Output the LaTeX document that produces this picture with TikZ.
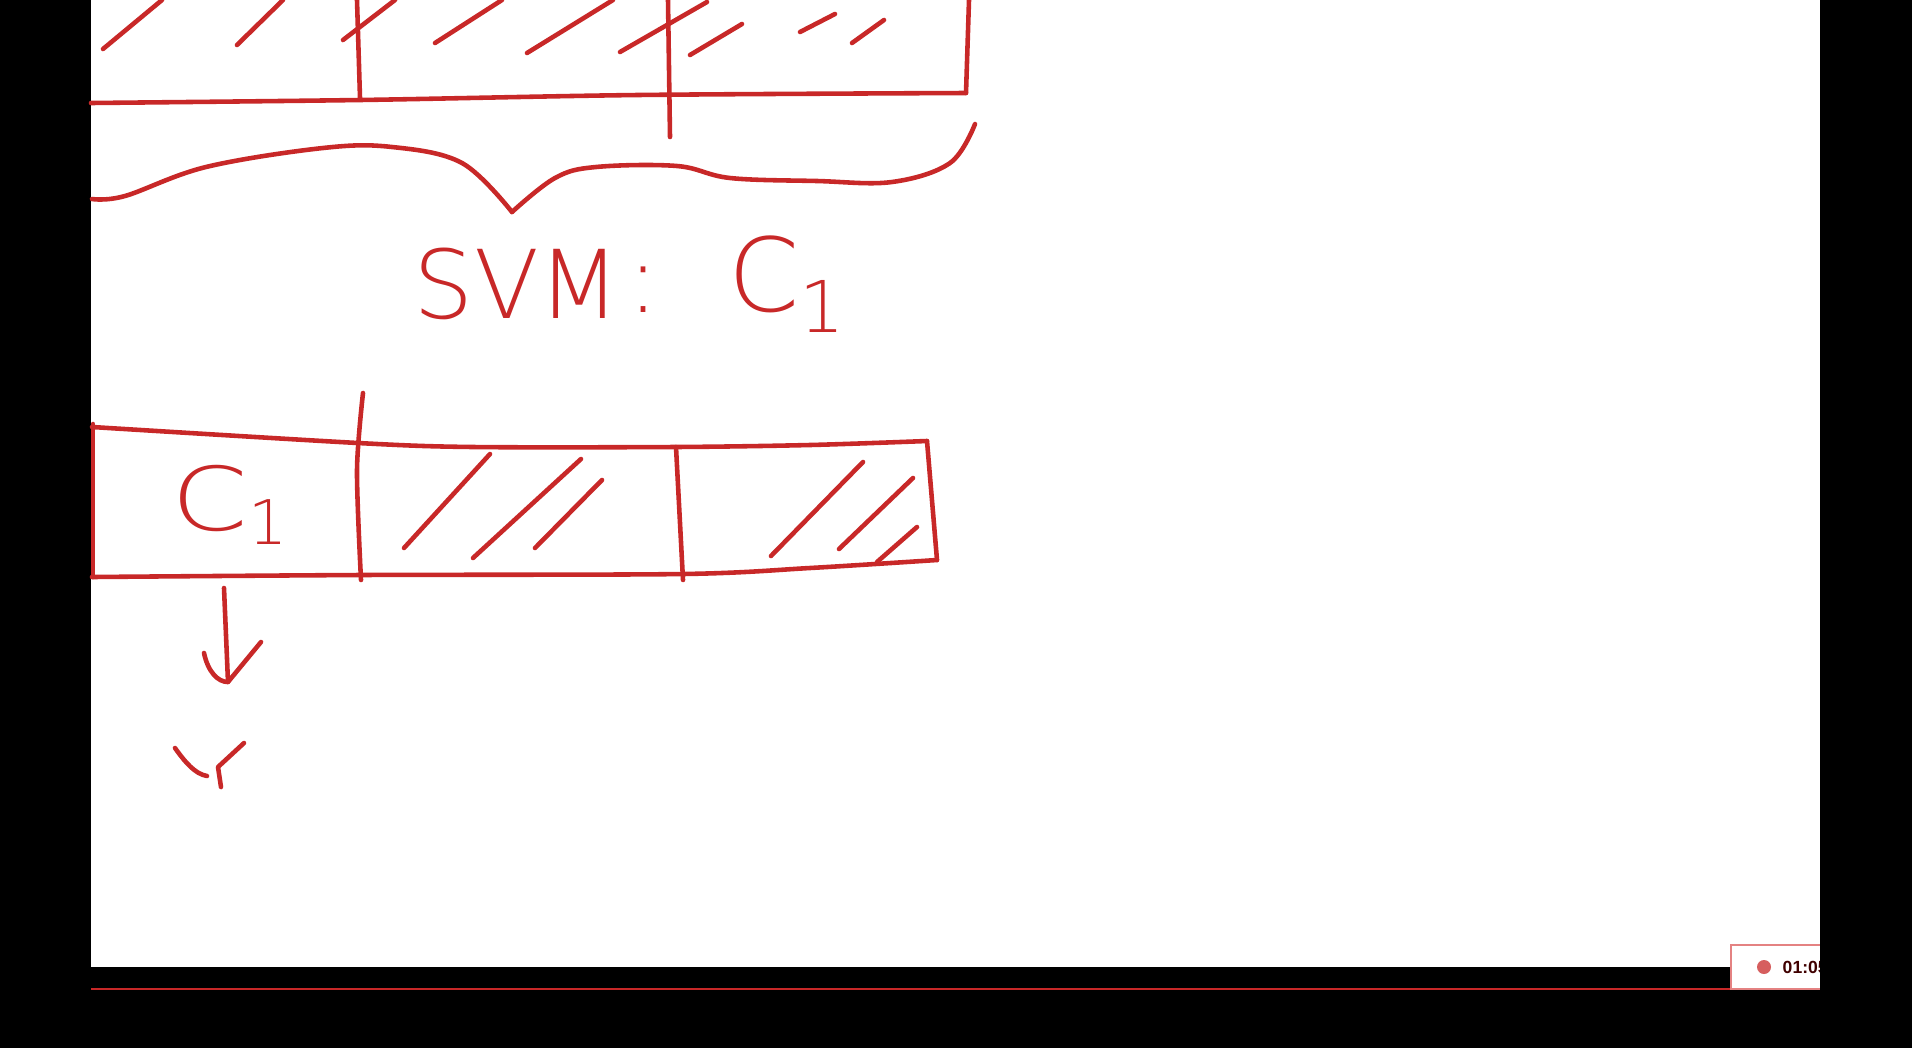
\documentclass[tikz,border=0pt]{standalone}
\usepackage{fontspec}
\setmainfont{Liberation Sans}
\newfontfamily\leicht{DejaVuSans-ExtraLight.ttf}
\usepackage{tikz}
\usetikzlibrary{calc}
\definecolor{stiftrot}{RGB}{200,40,40}
\definecolor{rahmen}{RGB}{228,130,130}

\tikzset{
	stift/.style={stiftrot, line width=1.3pt, line cap=round, line join=round},
	schrift/.style={text=stiftrot, inner sep=0pt, anchor=base west},
}

\begin{document}
\begin{tikzpicture}[x=0.01cm, y=-0.01cm]
	\useasboundingbox (0,0) rectangle (1912,1048);
	\fill[black] (0,0) rectangle (1912,1048); % Bildschirmrand
	\fill[white] (91,0) rectangle (1820,967);
	\draw[stiftrot, line width=0.6pt] (91,989) -- (1731,989);
	
	% obere Box (abgeschnitten)
	\draw[stift] plot[smooth] coordinates {(91,103) (360,100) (638,95) (966,93)};
	\draw[stift] (969,0) -- (966,93);
	\draw[stift] (357,0) -- (360,98);
	\draw[stift] (668,0) -- (670,137);
	\foreach \xa/\ya/\xb/\yb in {103/49/162/0, 237/45/283/0, 343/40/395/0, 435/43/502/0, 527/53/613/0,
	                             620/52/707/2, 690/55/742/24, 800/32/835/14, 852/43/884/20}
		\draw[stift] (\xa,\ya) -- (\xb,\yb);
	
	% Klammer
	\draw[stift] plot[smooth, tension=0.6] coordinates {(92,199) (125,196) (206,167) (323,148) (392,147) (462,163) (512,212)};
	\draw[stift] plot[smooth, tension=0.6] coordinates {(512,212) (555,178) (596,167) (677,166) (730,178) (817,181) (892,182) (950,163) (975,124)};
	
	\node[schrift, font=\leicht\fontsize{27}{27}\selectfont] (svm) at (413,318) {SVM};
	\node[schrift, font=\leicht\fontsize{27}{27}\selectfont] (doppelpunkt) at (627,312) {:};
	\node[schrift, font=\leicht\fontsize{29}{29}\selectfont] (cobenein) at (728,311) {C\textsubscript{1}};
	
	% untere Box
	\draw[stift] plot[smooth] coordinates {(92,427) (358,443) (473,447) (675,447) (810,445) (927,441)};
	\draw[stift] (927,441) -- (937,560);
	\draw[stift] plot[smooth] coordinates {(92,577) (361,575) (683,574) (810,568) (937,560)};
	\draw[stift] (93,424) -- (93,577);
	\draw[stift] plot[smooth] coordinates {(363,393) (357,470) (361,580)};
	\draw[stift] (676,447) -- (683,580);
	\foreach \xa/\ya/\xb/\yb in {404/548/490/454, 473/558/581/459, 535/548/602/480,
	                             771/556/863/462, 839/549/913/478, 877/562/917/527}
		\draw[stift] (\xa,\ya) -- (\xb,\yb);
	\node[schrift, font=\leicht\fontsize{25}{25}\selectfont] (cuntenein) at (171,530) {\scalebox{1.25}[1]{C}\textsubscript{1}};
	
	% Pfeil nach unten
	\coordinate (pfeilanfang) at (224,588);
	\coordinate (pfeilspitze) at (228,682);
	\draw[stift] (pfeilanfang) -- (pfeilspitze);
	\draw[stift] (204,653) .. controls (208,672) and (218,682) .. (pfeilspitze) -- (261,642);
	\draw[stift] (175,748) .. controls (185,762) and (195,774) .. (207,776);
	\draw[stift] (244,743) -- (218,767) -- (221,787);
	
	% Aufnahme-Uhr
	\draw[rahmen, fill=white, line width=0.5pt] (1731,945) rectangle (1840,989);
	\fill[stiftrot!75] (1764,967) circle [radius=7];
	\node[font=\bfseries\fontsize{5}{5}\selectfont, text=black!75!red, anchor=west, inner sep=0pt] (uhr) at (1782,967) {01:05};
	\fill[black] (1820,0) rectangle (1912,1048); % rechter Rand
	
	%\draw[help lines, step=100] (0,0) grid (1912,1048);
\end{tikzpicture}
\end{document}
